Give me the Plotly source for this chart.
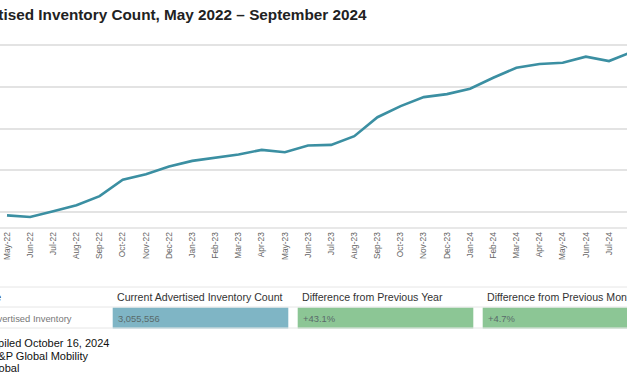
import plotly.graph_objects as go

# ---------------- data ----------------
months = ["May-22", "Jun-22", "Jul-22", "Aug-22", "Sep-22", "Oct-22", "Nov-22", "Dec-22",
          "Jan-23", "Feb-23", "Mar-23", "Apr-23", "May-23", "Jun-23", "Jul-23", "Aug-23",
          "Sep-23", "Oct-23", "Nov-23", "Dec-23", "Jan-24", "Feb-24", "Mar-24", "Apr-24",
          "May-24", "Jun-24", "Jul-24", "Aug-24", "Sep-24"]
inventory = [960000, 940000, 1008000, 1080000, 1190000, 1388000, 1452000, 1544000,
             1612000, 1648000, 1688000, 1744000, 1716000, 1796000, 1804000, 1908000,
             2135259, 2268000, 2376000, 2412000, 2476000, 2608000, 2728000, 2772000,
             2788000, 2860000, 2808000, 2918391, 3055556]
y_ticks = [1000000, 1500000, 2000000, 2500000, 3000000]

title_text = "Advertised Inventory Count, May 2022 \u2013 September 2024"
table_headers = ["Measure", "Current Advertised Inventory Count",
                 "Difference from Previous Year", "Difference from Previous Month"]
row_label = "Advertised Inventory"
footer_lines = ["Data compiled October 16, 2024", "Source: S&P Global Mobility",
                "\u00a9 2024 S&P Global"]

current = inventory[-1]
yoy = current / inventory[-13] - 1
mom = current / inventory[-2] - 1
cell_values = [f"{current:,}", f"{yoy:+.1%}", f"{mom:+.1%}"]

# ---------------- layout helpers ----------------
W, H = 627, 376
PT, PB = 35, 227  # plot area top / bottom (px)
FONT = "Liberation Sans, Arial"

def px(x):
    return x / W

def py(y):
    return (PB - y) / (PB - PT)

fig = go.Figure()
fig.add_trace(go.Scatter(
    x=months, y=inventory, mode="lines",
    line=dict(color="#3b8fa2", width=2.6),
    hoverinfo="x+y", showlegend=False,
))

annotations = []
shapes = []

# title (left part cut off by the canvas, as in the reference)
annotations.append(dict(text="<b>" + title_text + "</b>", xref="paper", yref="paper",
                        x=px(369), y=py(15), xanchor="right", yanchor="middle",
                        showarrow=False, font=dict(size=15.3, color="#222222", family=FONT)))

# table lines
for yl in (287, 307, 328):
    shapes.append(dict(type="line", xref="paper", yref="paper", x0=0, x1=1,
                       y0=py(yl), y1=py(yl), line=dict(color="#e6e6e6", width=1)))

# cell backgrounds
col_left = [112.7, 297.7, 482.7]
col_w = 175.6
cell_colors = ["#7fb5c5", "#8cc695", "#8cc695"]
for xl, c in zip(col_left, cell_colors):
    shapes.append(dict(type="rect", xref="paper", yref="paper", x0=px(xl), x1=px(xl + col_w),
                       y0=py(328.5), y1=py(307.5), fillcolor=c, line=dict(width=0), layer="below"))

hfont = dict(size=10.6, color="#333333", family=FONT)
annotations.append(dict(text=table_headers[0], xref="paper", yref="paper", x=px(3), y=py(297),
                        xanchor="right", yanchor="middle", showarrow=False, font=hfont))
for xl, h in zip(col_left, table_headers[1:]):
    annotations.append(dict(text=h, xref="paper", yref="paper", x=px(xl + 2.5), y=py(297),
                            xanchor="left", yanchor="middle", showarrow=False, font=hfont))

annotations.append(dict(text=row_label, xref="paper", yref="paper", x=px(73.5), y=py(318),
                        xanchor="right", yanchor="middle", showarrow=False,
                        font=dict(size=9.4, color="#777777", family=FONT)))
for xl, v in zip(col_left, cell_values):
    annotations.append(dict(text=v, xref="paper", yref="paper", x=px(xl + 3), y=py(318),
                            xanchor="left", yanchor="middle", showarrow=False,
                            font=dict(size=9.4, color="#5a6a6a", family=FONT)))

# footer (left part cut off)
for txt, xr, yc in zip(footer_lines, (110.5, 89.5, 21), (343, 356, 368)):
    annotations.append(dict(text=txt, xref="paper", yref="paper", x=px(xr), y=py(yc),
                            xanchor="right", yanchor="middle", showarrow=False,
                            font=dict(size=11, color="#111111", family=FONT)))

fig.update_layout(
    width=W, height=H,
    margin=dict(l=0, r=0, t=PT, b=H - PB, pad=0),
    paper_bgcolor="white", plot_bgcolor="white",
    font=dict(family=FONT),
    showlegend=False,
    annotations=annotations,
    shapes=shapes,
    xaxis=dict(type="category", range=[-0.302, 26.777], tickangle=-90,
               tickfont=dict(size=8.4, color="#666666"), showgrid=False,
               showline=True, linecolor="#e8e8e8", linewidth=1.5, ticks="",
               fixedrange=True, automargin=False),
    yaxis=dict(range=[820400, 3119800], tickvals=y_ticks, showticklabels=False,
               showgrid=True, gridcolor="#e3e3e3", gridwidth=1.5, zeroline=False,
               showline=False, ticks="", automargin=False, fixedrange=True),
)

fig.write_html("out.html", config={"displayModeBar": False},
               post_script="document.body.style.margin='0';document.body.style.overflow='hidden';")
